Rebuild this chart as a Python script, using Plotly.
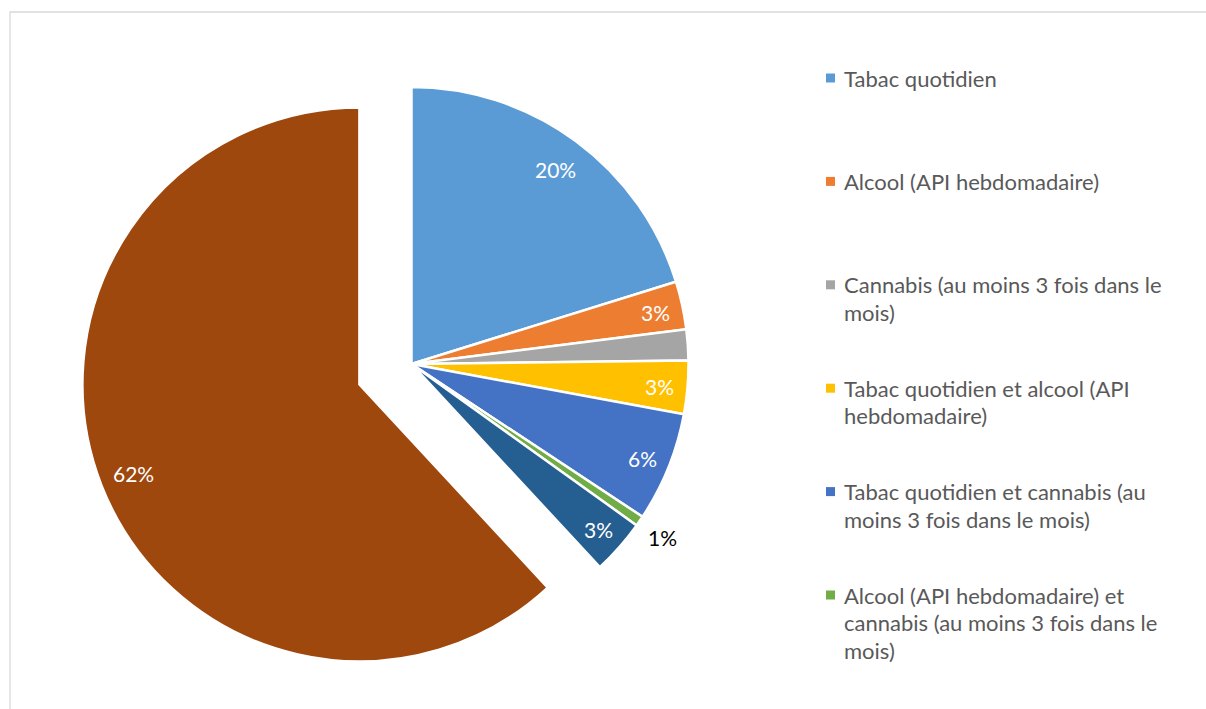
import math
import textwrap
import plotly.graph_objects as go

# Share of students by regular substance use (%)
categories = [
    "Tabac quotidien",
    "Alcool (API hebdomadaire)",
    "Cannabis (au moins 3 fois dans le mois)",
    "Tabac quotidien et alcool (API hebdomadaire)",
    "Tabac quotidien et cannabis (au moins 3 fois dans le mois)",
    "Alcool (API hebdomadaire) et cannabis (au moins 3 fois dans le mois)",
    "Tabac quotidien, alcool et cannabis",
    "Aucun usage régulier",
]
shares = [20.2, 2.8, 1.8, 3.1, 6.4, 0.6, 3.2, 61.9]
colors = ["#5B9BD5", "#ED7D31", "#A5A5A5", "#FFC000",
          "#4472C4", "#70AD47", "#255E91", "#9E480E"]
pulls = [0, 0, 0, 0, 0, 0, 0, 0.202]
# slices whose percentage is printed (grey one stays unlabeled)
labelled = [True, True, False, True, True, True, True, True]
outside = [False, False, False, False, False, True, False, False]
legend_count = 6  # legend box only has room for the first six entries

W, H = 1206, 709
CX, CY, R = 411.5, 364, 277        # pie centre and radius in pixels
FONT = "Lato"

def px(x):
    return x / W

def py(y):
    return 1 - y / H

maxpull = max(pulls)
half = R * (1 + maxpull)
dom_x = [px(CX - half - 8), px(CX + half + 8)]
dom_y = [py(CY + half), py(CY - half)]

fig = go.Figure(go.Pie(
    labels=categories,
    values=shares,
    sort=False,
    direction="clockwise",
    rotation=0,
    pull=pulls,
    marker=dict(colors=colors, line=dict(color="white", width=2.5)),
    textinfo="none",
    hoverinfo="label+percent",
    showlegend=False,
    domain=dict(x=dom_x, y=dom_y),
))

annotations = []
total = sum(shares)
cum = 0.0
for val, pull, show, out in zip(shares, pulls, labelled, outside):
    mid = (cum + val / 2) / total * 2 * math.pi
    cum += val
    if not show:
        continue
    ox = CX + pull * R * math.sin(mid)
    oy = CY - pull * R * math.cos(mid)
    k = 1.10 if out else (0.875 if val > 10 else 0.9)
    tx = ox + k * R * math.sin(mid)
    ty = oy - k * R * math.cos(mid) + 1
    annotations.append(dict(
        x=px(tx), y=py(ty), xref="paper", yref="paper",
        text=f"{round(val / total * 100)}%", showarrow=False,
        xanchor="center", yanchor="middle",
        font=dict(family=FONT, size=21, color="black" if out else "white"),
    ))

# legend drawn as colour squares and wrapped text lines
shapes = [dict(type="rect", xref="paper", yref="paper",
               x0=px(10), y0=-0.02, x1=1.02, y1=py(12),
               line=dict(color="#D9D9D9", width=1.3), fillcolor="rgba(0,0,0,0)")]
entry_y0, entry_step, line_h = 78, 103.4, 27.5
for i, (name, col) in enumerate(zip(categories[:legend_count], colors[:legend_count])):
    y = entry_y0 + i * entry_step
    shapes.append(dict(type="rect", xref="paper", yref="paper",
                       x0=px(826), x1=px(835), y0=py(y + 4.5), y1=py(y - 4.5),
                       line=dict(width=0), fillcolor=col))
    for j, line in enumerate(textwrap.wrap(name, width=33)):
        annotations.append(dict(
            x=px(842), y=py(y + j * line_h), xref="paper", yref="paper",
            text=line, showarrow=False, xanchor="left", yanchor="middle",
            font=dict(family=FONT, size=22, color="#595959"),
        ))

fig.update_layout(
    width=W, height=H,
    margin=dict(l=0, r=0, t=0, b=0),
    paper_bgcolor="white",
    annotations=annotations,
    shapes=shapes,
)

fig.write_html("out.html")
